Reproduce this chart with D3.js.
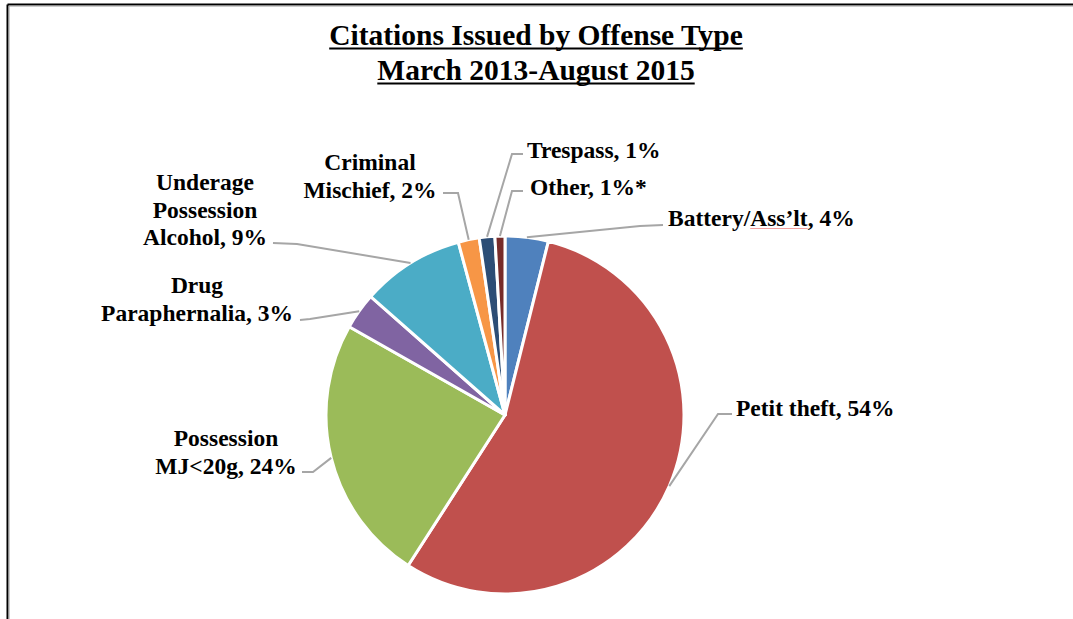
<!DOCTYPE html>
<html>
<head>
<meta charset="utf-8">
<script src="https://cdn.jsdelivr.net/npm/d3@7"></script>
<style>
  html, body { margin: 0; padding: 0; background: #fff; }
  svg { display: block; }
</style>
</head>
<body>
<svg id="chart" width="1073" height="619"></svg>
<script>
// ---- data ----
const categories = ["Battery/Ass\u2019lt", "Petit theft", "Possession MJ<20g", "Drug Paraphernalia",
                    "Underage Possession Alcohol", "Criminal Mischief", "Trespass", "Other"];
const values = [3.9, 55.2, 24.1, 3.3, 9.3, 1.9, 1.4, 0.9];
const labelTexts = [
  ["Battery/Ass\u2019lt, 4%"],
  ["Petit theft, 54%"],
  ["Possession", "MJ<20g, 24%"],
  ["Drug", "Paraphernalia, 3%"],
  ["Underage", "Possession", "Alcohol, 9%"],
  ["Criminal", "Mischief, 2%"],
  ["Trespass, 1%"],
  ["Other, 1%*"]
];
const colors = ["#4F81BD", "#C0504D", "#9BBB59", "#8064A2", "#4BACC6", "#F79646", "#2C4D75", "#772C2A"];
const titleLines = ["Citations Issued by Offense Type", "March 2013-August 2015"];

// ---- layout (label placement) ----
const labelLayout = [
  { x: 668, y: 218, anchor: "start",  line: [[640, 226], [663, 225]] },
  { x: 736, y: 408, anchor: "start",  line: [[718, 414], [732, 414]] },
  { x: 226, y: 438, anchor: "middle", line: [[313, 472], [302, 472]] },
  { x: 197, y: 285, anchor: "middle", line: [[310, 319], [300, 320]] },
  { x: 205, y: 182, anchor: "middle", line: [[297, 244], [273, 243]] },
  { x: 370, y: 162, anchor: "middle", line: [[458, 193], [443, 193]] },
  { x: 527, y: 150, anchor: "start",  line: [[512, 154], [523, 154]] },
  { x: 530, y: 187, anchor: "start",  line: [[512, 191], [523, 191]] }
];

const FONT = "'Liberation Serif', 'DejaVu Serif', serif";
const svg = d3.select("#chart");
const W = 1073, H = 619;
const cx = 505, cy = 415, R = 179;
const lineH = 27.5;

// border
svg.append("line").attr("x1", 7.5).attr("y1", 4.5).attr("x2", W).attr("y2", 4.5)
  .attr("stroke", "#000").attr("stroke-width", 2);
svg.append("line").attr("x1", 7.5).attr("y1", 4.5).attr("x2", 7.5).attr("y2", H)
  .attr("stroke", "#000").attr("stroke-width", 2);
svg.append("line").attr("x1", 9).attr("y1", 6).attr("x2", W).attr("y2", 6)
  .attr("stroke", "#999").attr("stroke-width", 1);
svg.append("line").attr("x1", 9).attr("y1", 6).attr("x2", 9).attr("y2", H)
  .attr("stroke", "#999").attr("stroke-width", 1);

// title
titleLines.forEach((t, i) => {
  const tx = svg.append("text")
    .attr("x", 536).attr("y", 45 + i * 35)
    .attr("text-anchor", "middle")
    .attr("font-family", FONT)
    .attr("font-weight", "bold")
    .attr("font-size", 29.5)
    .text(t);
  const bb = tx.node().getBBox();
  svg.append("line")
    .attr("x1", bb.x).attr("x2", bb.x + bb.width)
    .attr("y1", 48.5 + i * 35).attr("y2", 48.5 + i * 35)
    .attr("stroke", "#000").attr("stroke-width", 2);
});

// pie
const data = categories.map((c, i) => ({ name: c, value: values[i], i }));
const pie = d3.pie().sort(null).value(d => d.value).startAngle(0).endAngle(2 * Math.PI);
const arcs = pie(data);
const arc = d3.arc().innerRadius(0).outerRadius(R);

const g = svg.append("g").attr("transform", `translate(${cx},${cy})`);
g.selectAll("path").data(arcs).enter().append("path")
  .attr("d", arc)
  .attr("fill", d => colors[d.data.i])
  .attr("stroke", "#fff")
  .attr("stroke-width", 3)
  .attr("stroke-linejoin", "round");

// leader lines
arcs.forEach((a, i) => {
  const mid = (a.startAngle + a.endAngle) / 2;
  const p0 = [cx + R * Math.sin(mid), cy - R * Math.cos(mid)];
  const pts = [p0].concat(labelLayout[i].line);
  svg.append("path")
    .attr("d", d3.line()(pts))
    .attr("fill", "none")
    .attr("stroke", "#A6A6A6")
    .attr("stroke-width", 2);
});

// labels
labelTexts.forEach((lines, i) => {
  const L = labelLayout[i];
  const t = svg.append("text")
    .attr("text-anchor", L.anchor)
    .attr("font-family", FONT)
    .attr("font-weight", "bold")
    .attr("font-size", 23.5);
  lines.forEach((ln, j) => {
    t.append("tspan").attr("x", L.x).attr("y", L.y + j * lineH).attr("dy", "0.35em").text(ln);
  });
});

// spell-check squiggle under "Ass'lt"
(function () {
  const tmp = svg.append("text").attr("font-family", FONT).attr("font-weight", "bold")
    .attr("font-size", 23.5).attr("x", -1000).attr("y", -1000);
  tmp.text("Battery/");
  const w1 = tmp.node().getComputedTextLength();
  tmp.text("Battery/Ass\u2019lt");
  const w2 = tmp.node().getComputedTextLength();
  tmp.remove();
  svg.append("line")
    .attr("x1", 668 + w1).attr("x2", 668 + w2)
    .attr("y1", 228.5).attr("y2", 228.5)
    .attr("stroke", "#F2A0A0").attr("stroke-width", 1);
})();
</script>
</body>
</html>
